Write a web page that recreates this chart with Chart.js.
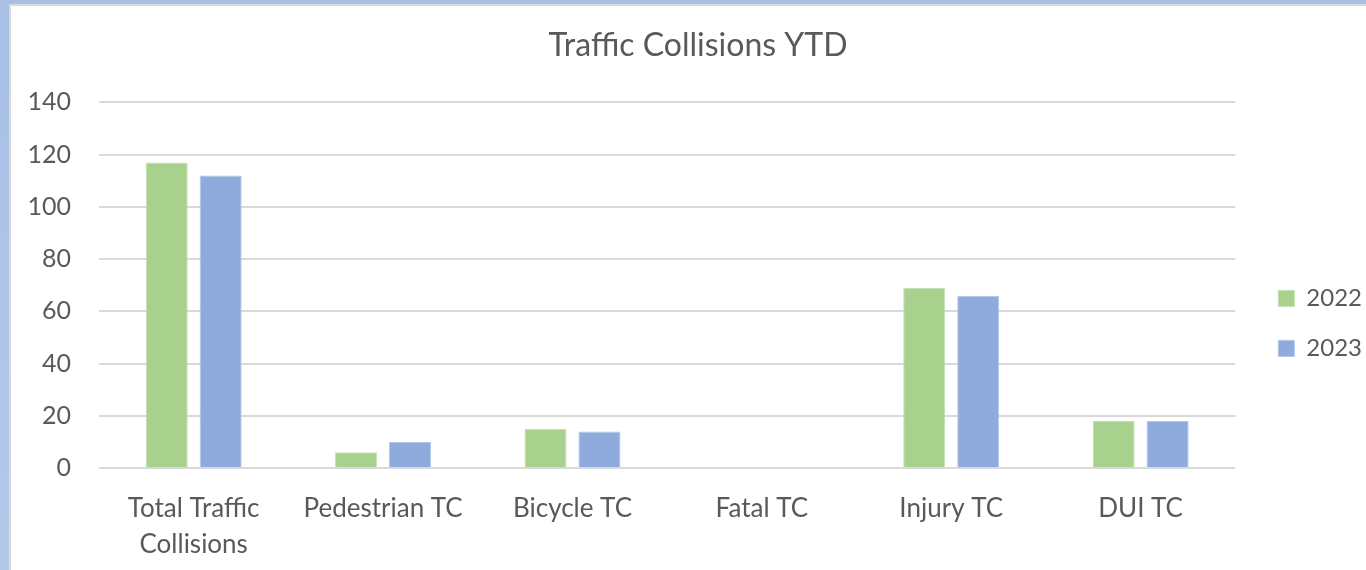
<!DOCTYPE html>
<html>
<head>
<meta charset="utf-8">
<script src="https://cdn.jsdelivr.net/npm/chart.js@4/dist/chart.umd.min.js"></script>
<style>
  html, body { margin: 0; padding: 0; }
  body {
    width: 1366px; height: 570px; overflow: hidden;
    background: linear-gradient(180deg, #a8bfe6 0%, #b4c8ea 100%);
    position: relative;
  }
  #frame {
    position: absolute; left: 9px; top: 4px; right: 0; bottom: 0;
    background: #ffffff; border-left: 2px solid #d9d9d9; border-top: 2px solid #d9d9d9;
  }
  #wrap { position: absolute; left: 0; top: 0; width: 1355px; height: 564px; }
</style>
</head>
<body>
<div id="frame"><div id="wrap"><canvas id="chart"></canvas></div></div>
<script>
'use strict';

/* ─── Data ─── */
const categories = [['Total Traffic', 'Collisions'], 'Pedestrian TC', 'Bicycle TC', 'Fatal TC', 'Injury TC', 'DUI TC'];
const seriesNames = ['2022', '2023'];
const values2022 = [117, 6, 15, 0, 69, 18];
const values2023 = [112, 10, 14, 0, 66, 18];
const yTicks = [0, 20, 40, 60, 80, 100, 120, 140];

const FONT = 'Lato, "Open Sans", sans-serif';
const TEXT = '#595959';

/* ─── nudge title + legend to where Excel put them ─── */
const placeBlocks = {
  id: 'placeBlocks',
  afterLayout(chart) {
    const t = chart.titleBlock;
    if (t) {
      const w = t.right - t.left, c = 687;
      t.left = c - w / 2;
      t.right = c + w / 2;
    }
    const lg = chart.legend;
    if (lg) {
      const h = lg.height, w = lg.width;
      lg.left = chart.chartArea.right + 17;
      lg.right = lg.left + w;
      lg.top = chart.chartArea.top + 158;
      lg.bottom = lg.top + h;
    }
  }
};

new Chart(document.getElementById('chart'), {
  type: 'bar',
  data: {
    labels: categories,
    datasets: [
      { label: seriesNames[0], data: values2022, backgroundColor: '#a9d18e', borderColor: '#c5e0b4', borderWidth: 1 },
      { label: seriesNames[1], data: values2023, backgroundColor: '#8faadc', borderColor: '#b4c7e7', borderWidth: 1 }
    ]
  },
  plugins: [placeBlocks],
  options: {
    responsive: true,
    maintainAspectRatio: false,
    animation: false,
    categoryPercentage: 0.57,
    barPercentage: 0.78,
    layout: { padding: { left: 0, right: 11, top: 20, bottom: 0 } },
    plugins: {
      title: {
        display: true,
        text: 'Traffic Collisions YTD',
        color: TEXT,
        font: { family: FONT, size: 32, weight: 'normal' },
        padding: { top: 0, bottom: 38 }
      },
      legend: {
        position: 'right',
        align: 'start',
        labels: {
          color: TEXT,
          font: { family: FONT, size: 24 },
          boxWidth: 16,
          boxHeight: 16,
          padding: 26
        }
      },
      tooltip: { enabled: false }
    },
    scales: {
      y: {
        min: 0,
        max: 140,
        afterBuildTicks: axis => { axis.ticks = yTicks.map(v => ({ value: v })); },
        afterFit: axis => { axis.width = 88; },
        ticks: { color: TEXT, font: { family: FONT, size: 25 }, padding: 28 },
        grid: { color: '#d9d9d9', lineWidth: 2, drawTicks: false },
        border: { display: false }
      },
      x: {
        afterFit: axis => { axis.height = 102; },
        ticks: { color: TEXT, font: { family: FONT, size: 26, lineHeight: 1.4 }, padding: 14, maxRotation: 0 },
        grid: { display: false },
        border: { display: false }
      }
    }
  }
});
</script>
</body>
</html>
